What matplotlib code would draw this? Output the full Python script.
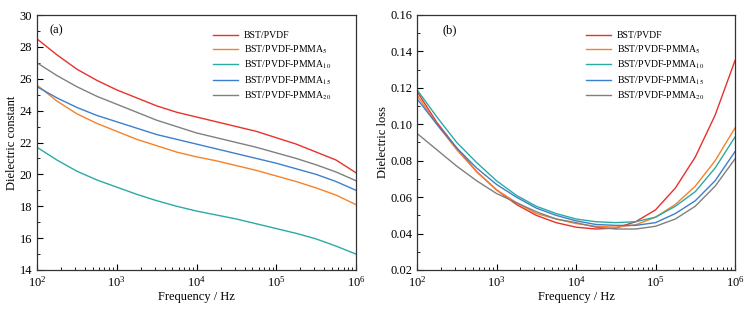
import numpy as np
from matplotlib import pyplot as plt
from matplotlib.ticker import MultipleLocator, LogLocator

plt.rcParams['font.family'] = ['Liberation Serif', 'DejaVu Serif']
plt.rcParams['mathtext.fontset'] = 'stix'

labels = ['BST/PVDF', 'BST/PVDF-PMMA$_5$', 'BST/PVDF-PMMA$_{10}$',
          'BST/PVDF-PMMA$_{15}$', 'BST/PVDF-PMMA$_{20}$']
colors = ['#e8312b', '#f5822a', '#2aaaa6', '#3d7fcc', '#808080']

# log10 of frequency
logf_a = [2, 2.25, 2.5, 2.75, 3, 3.25, 3.5, 3.75, 4, 4.25, 4.5, 4.75, 5, 5.25, 5.5, 5.75, 6]
eps_red = [28.5, 27.5, 26.6, 25.9, 25.3, 24.8, 24.3, 23.9, 23.6, 23.3, 23.0, 22.7, 22.3, 21.9, 21.4, 20.9, 20.1]
eps_orange = [25.6, 24.6, 23.8, 23.2, 22.7, 22.2, 21.8, 21.4, 21.1, 20.85, 20.55, 20.25, 19.9, 19.55, 19.15, 18.7, 18.1]
eps_teal = [21.7, 20.9, 20.2, 19.65, 19.2, 18.75, 18.35, 18.0, 17.7, 17.45, 17.2, 16.9, 16.6, 16.3, 15.95, 15.5, 15.0]
eps_blue = [25.5, 24.8, 24.2, 23.7, 23.3, 22.9, 22.5, 22.2, 21.9, 21.6, 21.3, 21.0, 20.7, 20.35, 20.0, 19.55, 19.0]
eps_gray = [27.0, 26.2, 25.5, 24.9, 24.4, 23.9, 23.4, 23.0, 22.6, 22.3, 22.0, 21.7, 21.35, 21.0, 20.6, 20.15, 19.6]

logf_b = [2, 2.25, 2.5, 2.75, 3, 3.25, 3.5, 3.75, 4, 4.25, 4.5, 4.75, 5, 5.25, 5.5, 5.75, 6]
loss_red = [0.118, 0.101, 0.087, 0.074, 0.064, 0.056, 0.050, 0.046, 0.0435, 0.0425, 0.043, 0.0465, 0.053, 0.065, 0.082, 0.105, 0.135]
loss_orange = [0.116, 0.100, 0.086, 0.074, 0.064, 0.057, 0.051, 0.048, 0.0455, 0.044, 0.0435, 0.0448, 0.049, 0.056, 0.066, 0.080, 0.098]
loss_teal = [0.119, 0.104, 0.090, 0.079, 0.069, 0.061, 0.055, 0.051, 0.048, 0.0465, 0.046, 0.0465, 0.049, 0.055, 0.063, 0.076, 0.093]
loss_blue = [0.114, 0.100, 0.087, 0.076, 0.067, 0.060, 0.054, 0.050, 0.047, 0.045, 0.0445, 0.0445, 0.046, 0.051, 0.058, 0.069, 0.085]
loss_gray = [0.095, 0.086, 0.077, 0.069, 0.062, 0.057, 0.052, 0.048, 0.046, 0.0435, 0.0425, 0.0425, 0.044, 0.048, 0.055, 0.066, 0.081]

eps_all = [eps_red, eps_orange, eps_teal, eps_blue, eps_gray]
loss_all = [loss_red, loss_orange, loss_teal, loss_blue, loss_gray]

fig = plt.figure(figsize=(7.49, 3.09), dpi=100)
ax1 = fig.add_axes([37/749, 1-270/309, 319/749, 255/309])
ax2 = fig.add_axes([417/749, 1-270/309, 318/749, 255/309])

def style_axes(ax):
    ax.set_xscale('log')
    ax.set_xlim(1e2, 1e6)
    ax.xaxis.set_major_locator(LogLocator(base=10, numticks=10))
    ax.xaxis.set_minor_locator(LogLocator(base=10, subs=np.arange(2, 10), numticks=20))
    ax.tick_params(which='major', direction='in', length=4, width=0.8, labelsize=9,
                   top=False, right=False)
    ax.tick_params(which='minor', direction='in', length=2, width=0.6,
                   top=False, right=False)
    for s in ax.spines.values():
        s.set_linewidth(0.9)
        s.set_color('#333333')
    ax.set_xlabel('Frequency / Hz', fontsize=9, labelpad=1)

def add_legend(ax, anchor):
    ax.legend(loc='upper right', bbox_to_anchor=anchor, frameon=False, fontsize=7,
              handlelength=2.6, labelspacing=0.3, handletextpad=0.6)

for ys, c, lab in zip(eps_all, colors, labels):
    ax1.plot(10**np.array(logf_a), ys, color=c, lw=1.0, label=lab)
style_axes(ax1)
ax1.set_ylim(14, 30)
ax1.yaxis.set_major_locator(MultipleLocator(2))
ax1.yaxis.set_minor_locator(MultipleLocator(1))
ax1.set_ylabel('Dielectric constant', fontsize=9, labelpad=1)
ax1.text(0.04, 0.93, '(a)', transform=ax1.transAxes, fontsize=9)
add_legend(ax1, (0.95, 0.97))

for ys, c, lab in zip(loss_all, colors, labels):
    ax2.plot(10**np.array(logf_b), ys, color=c, lw=1.0, label=lab)
style_axes(ax2)
ax2.set_ylim(0.02, 0.16)
ax2.yaxis.set_major_locator(MultipleLocator(0.02))
ax2.yaxis.set_minor_locator(MultipleLocator(0.01))
ax2.yaxis.set_major_formatter(plt.FormatStrFormatter('%.2f'))
ax2.set_ylabel('Dielectric loss', fontsize=9, labelpad=1)
ax2.text(0.08, 0.93, '(b)', transform=ax2.transAxes, fontsize=9)
add_legend(ax2, (0.93, 0.97))

fig.savefig('out.png', dpi=100)
